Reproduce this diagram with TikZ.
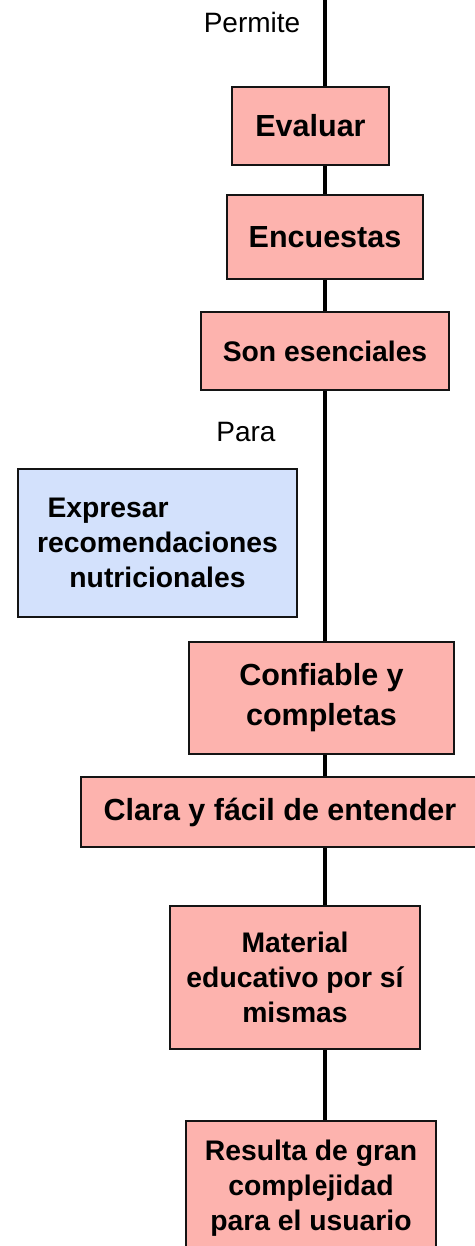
\documentclass[tikz,border=0pt]{standalone}
\usepackage{fontspec}
\setmainfont{Liberation Sans}
\definecolor{pinkfill}{HTML}{FDB3AE}
\definecolor{bluefill}{HTML}{D3E1FC}
\definecolor{edge}{HTML}{141414}
\begin{document}
\begin{tikzpicture}[x=1pt,y=-1pt,
  box/.style={draw=edge, line width=2.2pt, fill=pinkfill, inner sep=0pt, align=center,
    font=\fontsize{28.3}{35}\selectfont\bfseries},
  bluebox/.style={box, fill=bluefill},
  big/.style={font=\fontsize{30.5}{40}\selectfont\bfseries},
  lbl/.style={inner sep=0pt, font=\fontsize{28}{34}\selectfont},
  link/.style={draw=black, line width=4.2pt}]
\useasboundingbox (0,0) rectangle (474,1246);
\coordinate (top) at (325,0);
\node[lbl] (permite) at (252,22) {Permite};
\node[box, big, minimum width=157pt, minimum height=78pt] (eval) at (310.5,126) {Evaluar};
\node[box, big, minimum width=196pt, minimum height=84pt] (encu) at (325,237) {Encuestas};
\node[box, minimum width=248pt, minimum height=78pt] (son) at (325,351) {Son esenciales};
\node[lbl] (para) at (246,432) {Para};
\node[bluebox, minimum width=279pt, minimum height=148pt] (expr) at (157.5,543)
  {\makebox[220pt][l]{Expresar}\\recomendaciones\\nutricionales};
\node[box, big, minimum width=265pt, minimum height=112pt] (conf) at (321.5,698) {Confiable y\\completas};
\node[box, big, minimum width=398pt, minimum height=70pt] (clara) at (280,812) {Clara y fácil de entender};
\node[box, minimum width=250pt, minimum height=143pt] (mat) at (295,977.5) {Material\\educativo por sí\\mismas};
\node[box, minimum width=250pt, minimum height=134pt] (res) at (311,1188) {Resulta de gran\\complejidad\\para el usuario};
\draw[link] (top) -- (top |- eval.north);
\draw[link] (top |- eval.south) -- (top |- encu.north);
\draw[link] (top |- encu.south) -- (top |- son.north);
\draw[link] (top |- son.south) -- (top |- conf.north);
\draw[link] (top |- conf.south) -- (top |- clara.north);
\draw[link] (top |- clara.south) -- (top |- mat.north);
\draw[link] (top |- mat.south) -- (top |- res.north);
\end{tikzpicture}
\end{document}
